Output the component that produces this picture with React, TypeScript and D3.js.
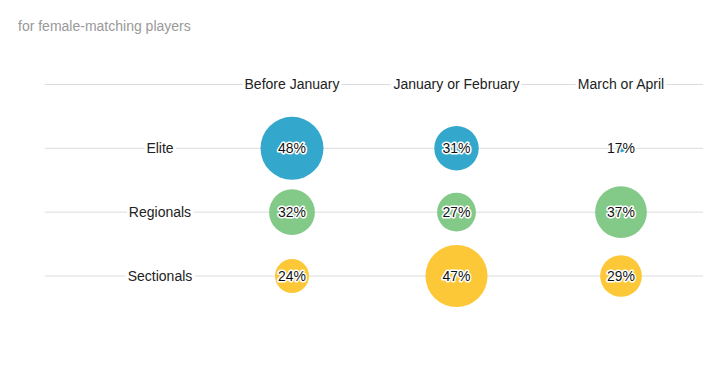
import React from 'react'
import * as d3 from 'd3'

const periods = ['Before January', 'January or February', 'March or April']
const levels = ['Elite', 'Regionals', 'Sectionals']
const levelColors = ['#33a8cc', '#83c988', '#fcc837']
// share of players per level (rows) and period (columns), percent
const elite = [48, 31, 17]
const regionals = [32, 27, 37]
const sectionals = [24, 47, 29]

const W = 722
const H = 365

export default function App() {
  const rows = [elite, regionals, sectionals]

  const x = d3.scalePoint<string>().domain(periods).range([292, 621])
  const y = d3.scalePoint<string>().domain(['__head', ...levels]).range([84.5, 276])
  // bubble area grows with the share; the smallest share collapses to a dot
  const r = d3.scaleRadial().domain([17, 24, 48]).range([4, 17, 31.5])

  const font = '"Liberation Sans", Arial, sans-serif'
  const halo = { paintOrder: 'stroke' as const, stroke: '#fff', strokeWidth: 3, strokeLinejoin: 'round' as const }

  return (
    <svg width={W} height={H} style={{ position: 'absolute', left: 0, top: 0, background: '#fff' }} fontFamily={font}>
      <text x={18} y={31} fontSize={14} fill="#999">for female-matching players</text>

      {['__head', ...levels].map(l => (
        <line key={l} x1={45} x2={703} y1={y(l)} y2={y(l)} stroke="#dcdcdc" strokeWidth={1} />
      ))}

      {periods.map(p => (
        <text key={p} x={x(p)} y={y('__head')} dy="0.35em" textAnchor="middle" fontSize={14} fill="#222"
          style={{ paintOrder: 'stroke', stroke: '#fff', strokeWidth: 6 }}>{p}</text>
      ))}

      {levels.map(l => (
        <text key={l} x={160} y={y(l)} dy="0.35em" textAnchor="middle" fontSize={14} fill="#222"
          style={{ paintOrder: 'stroke', stroke: '#fff', strokeWidth: 6 }}>{l}</text>
      ))}

      {rows.map((vals, i) => (
        <g key={levels[i]}>
          {vals.map((v, j) => (
            <g key={periods[j]} transform={`translate(${x(periods[j])},${y(levels[i])})`}>
              <circle r={r(v)} fill={levelColors[i]} />
              <text dy="0.35em" textAnchor="middle" fontSize={14} fill="#111" style={halo}>{v}%</text>
            </g>
          ))}
        </g>
      ))}
    </svg>
  )
}
